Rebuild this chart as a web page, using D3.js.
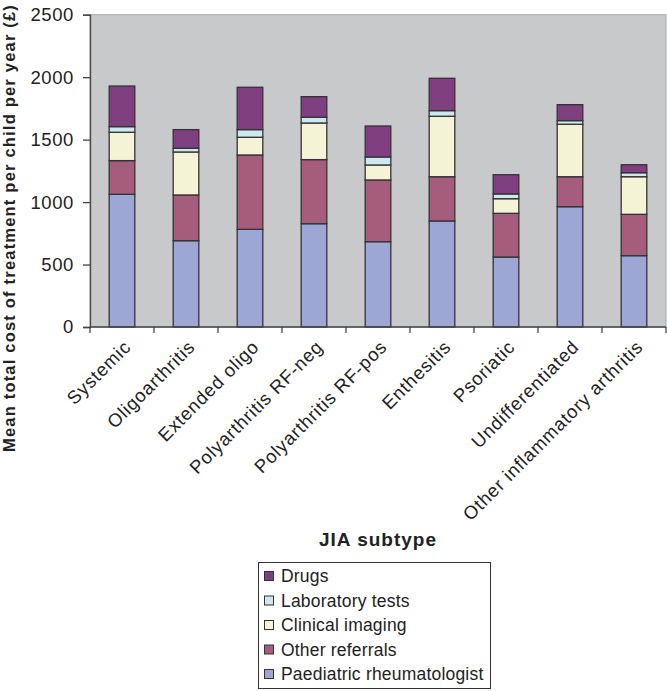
<!DOCTYPE html>
<html><head><meta charset="utf-8">
<script src="https://cdnjs.cloudflare.com/ajax/libs/d3/7.8.5/d3.min.js"></script>
<style>body{margin:0;background:#fff;}svg{display:block;font-family:"Liberation Sans",Arial,sans-serif;}</style>
</head><body><svg id="c" width="667" height="691"></svg>
<script>
const categories = ["Systemic","Oligoarthritis","Extended oligo","Polyarthritis RF-neg","Polyarthritis RF-pos","Enthesitis","Psoriatic","Undifferentiated","Other inflammatory arthritis"];
const seriesNames = ["Paediatric rheumatologist","Other referrals","Clinical imaging","Laboratory tests","Drugs"];
const paediatric = [1062, 691, 782, 827, 683, 849, 560, 963, 571];
const otherReferrals = [270, 366, 595, 513, 494, 354, 350, 240, 331];
const imaging = [227, 344, 142, 293, 120, 484, 117, 420, 301];
const labTests = [45, 30, 61, 46, 64, 45, 38, 29, 32];
const drugs = [325, 149, 339, 165, 248, 259, 154, 128, 64];
const yTicks = [0, 500, 1000, 1500, 2000, 2500];
const colors = ["#9ca7d6", "#a65c7d", "#f4f3d6", "#cde9f0", "#7f3f80"];

const seriesData = [paediatric, otherReferrals, imaging, labTests, drugs];
const rows = categories.map((c, i) => {
  const r = {cat: c};
  seriesNames.forEach((s, j) => r[s] = seriesData[j][i]);
  return r;
});
const stacked = d3.stack().keys(seriesNames)(rows);

const svg = d3.select("#c");
const L = 90, R = 666, T = 14.7, B = 327;
const x = d3.scaleBand().domain(categories).range([L, R]).paddingInner(0.6).paddingOuter(0.3);
const y = d3.scaleLinear().domain([0, 2500]).range([B, T]);

svg.append("rect").attr("x", L).attr("y", T).attr("width", R - L).attr("height", B - T)
  .attr("fill", "#c8c9cb").attr("stroke", "#a9a9a9").attr("stroke-width", 1);

const g = svg.append("g");
stacked.forEach((s, j) => {
  g.selectAll(null).data(s).enter().append("rect")
    .attr("x", d => x(d.data.cat))
    .attr("width", x.bandwidth())
    .attr("y", d => y(d[1]))
    .attr("height", d => y(d[0]) - y(d[1]))
    .attr("fill", colors[j])
    .attr("stroke", "#333")
    .attr("stroke-width", 1.3);
});

// y axis
const ya = svg.append("g").attr("transform", `translate(${L},0)`)
  .call(d3.axisLeft(y).tickValues(yTicks).tickSize(7).tickPadding(9).tickFormat(d3.format("d")));
ya.select(".domain").attr("stroke", "#444").attr("stroke-width", 1.3);
ya.selectAll(".tick line").attr("stroke", "#444").attr("stroke-width", 1.3);
ya.selectAll("text").attr("font-size", 18.5).attr("letter-spacing", 0.6).attr("fill", "#222")
  .attr("font-family", "Liberation Sans, Arial, sans-serif");

// x axis: ticks at band boundaries
const boundaries = d3.range(categories.length + 1).map(i => L + i * (R - L) / categories.length);
const xa = svg.append("g");
xa.append("line").attr("x1", L).attr("x2", R).attr("y1", B).attr("y2", B).attr("stroke", "#444").attr("stroke-width", 1.3);
xa.selectAll(null).data(boundaries).enter().append("line")
  .attr("x1", d => d).attr("x2", d => d).attr("y1", B).attr("y2", B + 6)
  .attr("stroke", "#444").attr("stroke-width", 1.3);
xa.selectAll(null).data(categories).enter().append("text")
  .attr("transform", d => `translate(${x(d) + x.bandwidth() / 2 + 1},${B + 12}) rotate(-45)`)
  .attr("text-anchor", "end").attr("dy", "0.7em")
  .attr("font-size", 18.5).attr("letter-spacing", 0.8).attr("fill", "#222").text(d => d);

// axis titles
svg.append("text").attr("x", 378).attr("y", 546).attr("text-anchor", "middle")
  .attr("font-size", 19).attr("letter-spacing", 1).attr("font-weight", "bold").attr("fill", "#222").text("JIA subtype");
svg.append("text").attr("transform", "translate(15,228) rotate(-90)").attr("text-anchor", "middle")
  .attr("font-size", 16.5).attr("letter-spacing", 1.2).attr("font-weight", "bold").attr("fill", "#222")
  .text("Mean total cost of treatment per child per year (£)");

// legend
const lg = svg.append("g");
lg.append("rect").attr("x", 258.5).attr("y", 562.5).attr("width", 232).attr("height", 126)
  .attr("fill", "#fff").attr("stroke", "#333").attr("stroke-width", 1);
const legendOrder = seriesNames.map((s, j) => ({s, j})).reverse();
legendOrder.forEach((d, i) => {
  const yy = 576 + i * 24.5;
  lg.append("rect").attr("x", 264.5).attr("y", yy - 4.5).attr("width", 9).attr("height", 9)
    .attr("fill", colors[d.j]).attr("stroke", "#333").attr("stroke-width", 1);
  lg.append("text").attr("x", 281).attr("y", yy).attr("dy", "0.35em")
    .attr("font-size", 17.5).attr("letter-spacing", 0.2).attr("fill", "#222").text(d.s);
});
</script></body></html>
